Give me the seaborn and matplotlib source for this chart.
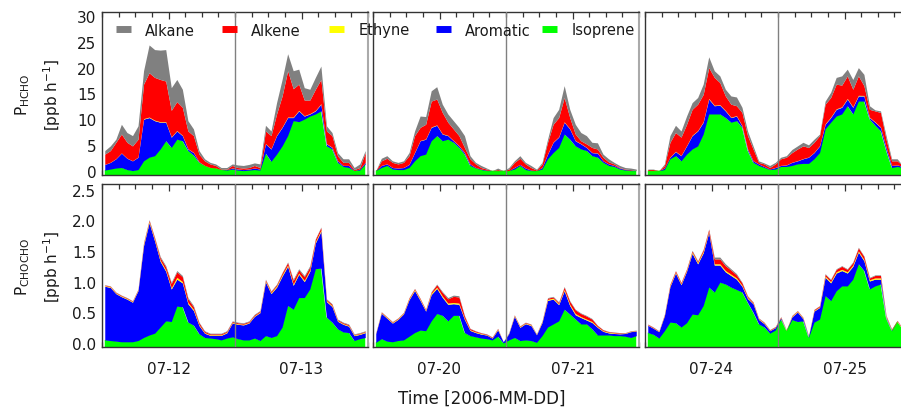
import numpy as np
import matplotlib
matplotlib.use("Agg")
import matplotlib.pyplot as plt
import seaborn as sns
from matplotlib.lines import Line2D
from matplotlib.ticker import FixedLocator, MultipleLocator

# ---------------- data (hourly values) ----------------
species = ["Alkane", "Alkene", "Ethyne", "Aromatic", "Isoprene"]
species_colors = ["#808080", "#ff0000", "#ffff00", "#0000ff", "#00ff00"]
day_labels = [["07-12", "07-13"], ["07-20", "07-21"], ["07-24", "07-25"]]
hcho_yticks = [0, 5, 10, 15, 20, 25, 30]
chocho_yticks = [0.0, 0.5, 1.0, 1.5, 2.0, 2.5]
hcho_yticklabels = ["0", "5", "10", "15", "20", "25", "30"]
chocho_yticklabels = ["0.0", "0.5", "1.0", "1.5", "2.0", "2.5"]
hours = np.arange(48) + 0.5

# HCHO: cumulative stack levels (top of isoprene, aromatic, alkene, alkane) + ethyne
hcho_iso_1 = [0.1,0.3,0.5,0.6,0.2,0.0,0.2,1.9,2.6,2.9,4.2,5.8,4.5,6.1,5.8,3.9,3.0,1.6,1.0,0.6,0.5,0.2,0.1,0.3,
              0.1,0.0,0.1,0.2,0.1,3.4,1.8,3.2,4.8,6.8,9.7,9.5,10.0,10.6,11.0,11.6,4.8,4.2,1.6,0.8,0.6,0.0,0.1,1.3]
hcho_aro_1 = [1.2,1.6,2.3,3.4,2.4,1.9,2.6,10.0,10.3,9.7,9.4,9.4,6.5,7.7,6.8,4.2,3.5,1.7,1.0,0.6,0.5,0.2,0.2,0.5,
              0.3,0.2,0.3,0.5,0.3,5.2,4.2,6.8,8.4,10.3,10.3,11.6,10.6,11.0,11.6,12.9,5.2,4.5,1.9,1.0,1.0,0.0,0.3,1.6]
hcho_ole_1 = [3.2,3.9,5.5,7.1,5.5,4.8,6.1,16.8,19.0,18.1,17.7,17.4,11.7,13.4,12.3,7.7,6.8,3.2,1.9,1.3,1.0,0.3,0.3,1.0,
              0.6,0.5,0.6,1.0,0.6,7.7,6.8,11.0,14.5,19.4,15.9,16.8,13.7,13.7,15.8,17.7,7.7,6.8,2.9,1.6,1.6,0.2,0.6,3.5]
hcho_tot_1 = [3.9,4.8,6.1,9.0,7.4,6.8,8.7,19.4,24.4,23.5,23.4,23.5,16.1,17.7,15.8,9.7,8.1,3.9,2.3,1.6,1.3,0.6,0.6,1.3,
              1.1,1.0,1.2,1.5,1.3,8.8,7.7,13.2,17.7,22.7,19.4,19.7,16.1,15.8,18.1,20.3,8.7,7.4,3.5,2.3,2.3,0.6,1.3,3.9]
hcho_eth_1 = [0.02,0.03,0.03,0.04,0.03,0.03,0.04,0.1,0.1,0.1,0.1,0.1,0.08,0.08,0.08,0.06,0.05,0.03,0.02,0.02,0.02,0.01,0.01,0.02,
              0.02,0.02,0.02,0.02,0.02,0.06,0.05,0.07,0.08,0.1,0.1,0.1,0.08,0.08,0.08,0.1,0.05,0.05,0.03,0.02,0.02,0.01,0.01,0.03]

hcho_iso_2 = [0.0,0.6,1.0,0.3,0.2,0.2,0.6,1.9,2.9,3.2,5.8,6.8,5.8,6.1,5.5,4.5,3.2,1.0,0.5,0.2,0.0,0.0,0.0,0.0,
              0.0,0.3,1.0,0.2,0.0,0.0,0.3,2.3,3.5,4.5,7.1,6.1,4.8,4.2,3.9,2.9,2.6,1.6,1.0,0.8,0.3,0.1,0.0,0.0]
hcho_aro_2 = [0.0,1.0,1.3,0.6,0.5,0.6,1.2,3.5,5.8,6.1,8.4,8.8,7.1,6.8,5.8,4.8,3.5,1.3,0.6,0.3,0.1,0.0,0.0,0.0,
              0.0,0.6,1.2,0.5,0.1,0.0,0.6,3.2,5.5,6.5,9.4,8.1,5.8,5.2,4.5,3.5,3.4,1.9,1.3,1.0,0.5,0.2,0.1,0.0]
hcho_ole_2 = [0.0,1.9,2.4,1.6,1.3,1.6,2.9,6.8,8.4,9.0,13.5,13.9,11.3,9.4,8.1,6.8,4.5,2.3,1.3,0.6,0.3,0.0,0.2,0.0,
              0.3,1.6,2.4,1.3,0.6,0.1,1.3,5.5,9.0,10.3,14.2,10.3,7.1,5.8,5.2,4.5,4.2,2.6,1.7,1.3,0.6,0.3,0.2,0.0]
hcho_tot_2 = [0.0,2.4,2.9,1.9,1.6,1.9,3.5,7.7,10.6,10.5,15.5,16.3,12.9,11.0,9.7,8.4,6.8,2.9,1.6,1.0,0.5,0.0,0.5,0.0,
              0.6,1.9,2.9,1.6,1.0,0.3,1.6,6.1,10.3,11.9,16.5,11.9,9.0,7.4,6.8,5.5,5.4,3.2,2.3,1.6,1.0,0.6,0.5,0.3]
hcho_eth_2 = [0.0,0.02,0.02,0.02,0.02,0.02,0.03,0.05,0.06,0.06,0.08,0.08,0.07,0.06,0.06,0.05,0.04,0.02,0.01,0.01,0.0,0.0,0.0,0.0,
              0.0,0.02,0.02,0.02,0.01,0.0,0.02,0.05,0.06,0.07,0.08,0.07,0.05,0.05,0.04,0.04,0.04,0.02,0.02,0.01,0.01,0.0,0.0,0.0]

hcho_iso_3 = [0.0,0.0,0.0,0.2,2.3,2.9,1.9,3.2,4.2,4.8,7.1,11.0,11.0,11.0,10.3,9.4,9.7,8.4,3.9,1.6,1.0,0.6,0.2,0.3,
              0.8,0.8,1.0,1.3,1.4,1.4,2.3,3.5,8.1,9.4,10.6,11.0,12.6,11.0,13.5,13.5,10.0,8.8,7.7,3.9,0.6,0.8,0.6,0.4]
hcho_aro_3 = [0.0,0.0,0.0,0.5,2.6,3.7,2.9,4.8,6.8,7.7,9.4,13.9,12.6,12.7,11.6,10.3,10.6,8.7,4.2,1.9,1.3,0.8,0.3,0.6,
              1.0,1.1,1.6,1.9,2.3,2.6,3.5,4.8,9.0,10.3,11.9,12.3,13.9,12.3,14.5,14.5,10.3,9.4,8.4,4.5,1.0,1.1,0.8,0.6]
hcho_ole_3 = [0.2,0.2,0.0,1.0,5.5,7.4,6.5,9.0,11.9,12.9,14.8,20.0,18.1,17.1,14.5,12.9,12.6,11.3,6.8,4.2,1.6,1.3,0.6,1.3,
              2.3,2.6,3.5,4.2,4.8,4.5,5.5,6.8,12.9,14.2,16.8,16.6,18.4,15.8,18.4,16.5,11.9,11.6,11.3,6.1,1.9,1.9,1.0,0.8]
hcho_tot_3 = [0.3,0.3,0.0,1.3,6.8,8.8,7.7,10.6,13.2,14.2,16.8,22.1,19.4,18.4,15.8,14.5,14.3,12.3,7.7,4.8,1.9,1.5,1.0,1.6,
              2.6,2.9,4.1,4.8,5.5,5.0,6.1,7.1,13.5,15.2,18.1,18.4,19.7,17.7,20.0,18.7,12.6,11.8,11.6,6.8,2.3,2.3,1.0,0.8]
hcho_eth_3 = [0.01,0.01,0.0,0.02,0.05,0.06,0.05,0.06,0.08,0.08,0.1,0.12,0.1,0.1,0.1,0.08,0.08,0.08,0.05,0.03,0.02,0.01,0.01,0.02,
              0.02,0.03,0.03,0.04,0.04,0.04,0.05,0.06,0.1,0.1,0.1,0.1,0.12,0.1,0.12,0.1,0.08,0.08,0.08,0.05,0.02,0.02,0.01,0.01]

# CHOCHO: total height, isoprene part and thin layers (ethyne, alkene, alkane)
chocho_tot_1 = [0.95,0.93,0.83,0.78,0.74,0.69,0.88,1.64,2.01,1.72,1.41,1.26,0.99,1.18,1.10,0.74,0.61,0.34,0.20,0.16,0.16,0.16,0.20,0.36,
                0.34,0.33,0.36,0.47,0.53,1.04,0.85,0.96,1.15,1.32,1.04,1.21,1.10,1.26,1.70,1.89,0.72,0.64,0.39,0.34,0.31,0.15,0.17,0.20]
chocho_iso_1 = [0.05,0.04,0.03,0.02,0.02,0.02,0.04,0.09,0.13,0.16,0.26,0.36,0.35,0.60,0.59,0.34,0.29,0.15,0.09,0.08,0.07,0.05,0.08,0.10,
                0.07,0.05,0.05,0.08,0.04,0.12,0.09,0.12,0.26,0.61,0.55,0.74,0.74,0.88,1.21,1.22,0.42,0.34,0.23,0.18,0.17,0.04,0.07,0.09]
chocho_eth_1 = [0.01,0.01,0.01,0.01,0.01,0.01,0.01,0.02,0.02,0.02,0.02,0.02,0.02,0.03,0.02,0.02,0.02,0.015,0.01,0.01,0.01,0.01,0.01,0.01,
                0.01,0.01,0.01,0.01,0.01,0.015,0.015,0.02,0.02,0.02,0.02,0.02,0.02,0.02,0.02,0.02,0.015,0.015,0.01,0.01,0.01,0.01,0.01,0.01]
chocho_ole_1 = [0.01,0.01,0.01,0.01,0.01,0.01,0.01,0.02,0.02,0.03,0.04,0.05,0.07,0.09,0.08,0.06,0.04,0.03,0.02,0.015,0.015,0.015,0.015,0.015,
                0.015,0.015,0.015,0.015,0.015,0.02,0.02,0.02,0.03,0.04,0.06,0.05,0.06,0.05,0.04,0.04,0.02,0.02,0.015,0.015,0.015,0.01,0.01,0.01]
chocho_alk_1 = [0.005,0.005,0.005,0.005,0.005,0.005,0.005,0.01,0.01,0.01,0.02,0.02,0.02,0.02,0.02,0.02,0.02,0.01,0.01,0.01,0.01,0.01,0.01,0.01,
                0.01,0.01,0.01,0.01,0.01,0.01,0.01,0.01,0.01,0.01,0.02,0.02,0.02,0.02,0.01,0.01,0.01,0.01,0.01,0.01,0.01,0.01,0.01,0.01]

chocho_tot_2 = [0.17,0.51,0.43,0.35,0.41,0.50,0.74,0.89,0.73,0.55,0.84,0.96,0.84,0.74,0.78,0.77,0.45,0.24,0.20,0.17,0.15,0.10,0.24,0.02,
                0.17,0.46,0.28,0.34,0.31,0.15,0.36,0.74,0.76,0.67,0.92,0.69,0.55,0.49,0.45,0.40,0.29,0.22,0.19,0.18,0.17,0.17,0.20,0.21]
chocho_iso_2 = [0.01,0.07,0.03,0.02,0.04,0.05,0.11,0.17,0.21,0.20,0.36,0.48,0.45,0.36,0.45,0.45,0.17,0.12,0.10,0.08,0.07,0.05,0.11,0.0,
                0.05,0.09,0.04,0.05,0.04,0.01,0.12,0.26,0.31,0.36,0.55,0.47,0.39,0.31,0.31,0.23,0.13,0.13,0.13,0.12,0.12,0.11,0.09,0.12]
chocho_eth_2 = [0.005,0.01,0.01,0.01,0.01,0.01,0.015,0.015,0.015,0.01,0.02,0.02,0.02,0.02,0.02,0.02,0.015,0.01,0.01,0.01,0.005,0.005,0.01,0.0,
                0.005,0.01,0.01,0.01,0.01,0.005,0.01,0.015,0.015,0.015,0.02,0.02,0.02,0.015,0.015,0.015,0.01,0.01,0.01,0.01,0.005,0.005,0.005,0.005]
chocho_ole_2 = [0.005,0.01,0.01,0.01,0.01,0.01,0.015,0.015,0.015,0.015,0.02,0.04,0.06,0.07,0.10,0.10,0.04,0.02,0.015,0.01,0.01,0.01,0.01,0.0,
                0.005,0.01,0.01,0.01,0.01,0.005,0.01,0.02,0.02,0.02,0.04,0.05,0.06,0.05,0.05,0.04,0.02,0.015,0.01,0.01,0.01,0.005,0.005,0.005]
chocho_alk_2 = [0.005,0.005,0.005,0.005,0.005,0.005,0.005,0.005,0.005,0.005,0.01,0.01,0.015,0.02,0.02,0.02,0.01,0.005,0.005,0.005,0.005,0.005,0.005,0.0,
                0.005,0.005,0.005,0.005,0.005,0.005,0.005,0.01,0.01,0.01,0.01,0.01,0.01,0.01,0.01,0.01,0.005,0.005,0.005,0.005,0.005,0.005,0.005,0.005]

chocho_tot_3 = [0.31,0.26,0.20,0.47,0.96,1.18,0.99,1.21,1.51,1.34,1.53,1.86,1.40,1.40,1.29,1.21,1.13,0.99,0.77,0.67,0.41,0.34,0.22,0.27,
                0.43,0.21,0.45,0.53,0.42,0.12,0.55,0.61,1.13,1.04,1.21,1.26,1.21,1.32,1.56,1.42,1.07,1.11,1.11,0.45,0.23,0.36,0.23,0.20]
chocho_iso_3 = [0.17,0.14,0.08,0.20,0.34,0.33,0.26,0.33,0.47,0.46,0.61,0.91,0.83,0.99,0.96,0.91,0.87,0.83,0.66,0.50,0.31,0.26,0.16,0.21,
                0.39,0.20,0.38,0.35,0.36,0.09,0.34,0.39,0.77,0.69,0.85,0.93,0.93,1.04,1.29,1.18,0.88,0.93,0.96,0.40,0.20,0.35,0.22,0.19]
chocho_eth_3 = [0.005,0.005,0.005,0.01,0.015,0.015,0.015,0.015,0.02,0.02,0.02,0.02,0.02,0.02,0.02,0.02,0.02,0.015,0.015,0.01,0.01,0.01,0.005,0.005,
                0.005,0.005,0.01,0.01,0.01,0.005,0.01,0.01,0.02,0.02,0.02,0.02,0.02,0.02,0.02,0.02,0.02,0.02,0.02,0.01,0.005,0.005,0.005,0.005]
chocho_ole_3 = [0.01,0.01,0.005,0.01,0.02,0.02,0.02,0.02,0.02,0.02,0.03,0.03,0.08,0.08,0.08,0.07,0.05,0.04,0.02,0.015,0.01,0.01,0.01,0.01,
                0.01,0.005,0.01,0.01,0.01,0.005,0.015,0.015,0.03,0.03,0.04,0.05,0.04,0.04,0.05,0.05,0.03,0.04,0.04,0.015,0.01,0.01,0.01,0.01]
chocho_alk_3 = [0.005,0.005,0.005,0.005,0.005,0.005,0.005,0.005,0.01,0.01,0.01,0.01,0.03,0.03,0.03,0.02,0.02,0.01,0.01,0.005,0.005,0.005,0.005,0.005,
                0.005,0.005,0.005,0.005,0.005,0.005,0.005,0.005,0.01,0.01,0.01,0.01,0.01,0.01,0.01,0.01,0.01,0.01,0.01,0.005,0.005,0.005,0.005,0.005]

# ---------------- build species layers (bottom -> top: Isoprene, Aromatic, Ethyne, Alkene, Alkane) ----------------
def hcho_layers(iso, aro, ole, tot, eth):
    iso, aro, ole, tot, eth = map(np.asarray, (iso, aro, ole, tot, eth))
    return [iso, np.clip(aro - iso, 0, None), eth,
            np.clip(ole - aro - eth, 0, None), np.clip(tot - ole, 0, None)]

def chocho_layers(tot, iso, eth, ole, alk):
    tot, iso, eth, ole, alk = map(np.asarray, (tot, iso, eth, ole, alk))
    aro = np.clip(tot - iso - eth - ole - alk, 0, None)
    return [iso, aro, eth, ole, alk]

hcho_panels = [hcho_layers(hcho_iso_1, hcho_aro_1, hcho_ole_1, hcho_tot_1, hcho_eth_1),
               hcho_layers(hcho_iso_2, hcho_aro_2, hcho_ole_2, hcho_tot_2, hcho_eth_2),
               hcho_layers(hcho_iso_3, hcho_aro_3, hcho_ole_3, hcho_tot_3, hcho_eth_3)]
chocho_panels = [chocho_layers(chocho_tot_1, chocho_iso_1, chocho_eth_1, chocho_ole_1, chocho_alk_1),
                 chocho_layers(chocho_tot_2, chocho_iso_2, chocho_eth_2, chocho_ole_2, chocho_alk_2),
                 chocho_layers(chocho_tot_3, chocho_iso_3, chocho_eth_3, chocho_ole_3, chocho_alk_3)]
layer_colors = species_colors[::-1]   # isoprene first

# ---------------- figure ----------------
sns.set_theme(style="ticks")
plt.rcParams["font.family"] = ["DejaVu Sans"]
plt.rcParams["text.color"] = "#1a1a1a"
plt.rcParams["axes.labelcolor"] = "#1a1a1a"
plt.rcParams["xtick.color"] = "#1a1a1a"
plt.rcParams["ytick.color"] = "#1a1a1a"
W, H = 901, 410
fig = plt.figure(figsize=(W / 100, H / 100), dpi=100)

col_left = [102, 373, 645]
ax_w = 266
row_top = [13, 185]
ax_h = 163
rows = [(hcho_panels, (-0.85, 30.8), hcho_yticks, hcho_yticklabels,
         "P$_{\\rm HCHO}$\n[ppb h$^{-1}$]"),
        (chocho_panels, (-0.065, 2.59), chocho_yticks, chocho_yticklabels,
         "P$_{\\rm CHOCHO}$\n[ppb h$^{-1}$]")]

for r, (panels, ylim, yt, ytl, ylab) in enumerate(rows):
    for c in range(3):
        ax = fig.add_axes([col_left[c] / W, 1 - (row_top[r] + ax_h) / H, ax_w / W, ax_h / H])
        layers = panels[c]
        base = np.full(len(hours), -100.0)
        level = np.zeros(len(hours))
        for i, (lay, col) in enumerate(zip(layers, layer_colors)):
            new = level + lay
            ax.fill_between(hours, base if i == 0 else level, new, color=col, lw=0, zorder=1)
            level = new
        ax.axvline(24, color="#808080", lw=1.0, zorder=3)
        ax.set_xlim(0, 48)
        ax.set_ylim(*ylim)
        ax.xaxis.set_major_locator(FixedLocator([12, 36]))
        ax.xaxis.set_minor_locator(MultipleLocator(3))
        ax.tick_params(axis="x", which="both", direction="in", top=True, bottom=True,
                       color="#333333", width=0.9)
        ax.tick_params(axis="x", which="major", length=5, pad=10, labelsize=11)
        ax.tick_params(axis="x", which="minor", length=3.5)
        ax.set_yticks(yt)
        ax.tick_params(axis="y", length=0, pad=4, labelsize=11)
        if r == 1:
            ax.set_xticklabels(day_labels[c])
        else:
            ax.set_xticklabels([])
        if c == 0:
            ax.set_yticklabels(ytl)
            ax.set_ylabel(ylab, fontsize=11, linespacing=1.6)
            ax.yaxis.set_label_coords(-0.145, 0.5)
        else:
            ax.set_yticklabels([])
        for s in ["left", "top", "bottom"]:
            ax.spines[s].set_color("#333333")
            ax.spines[s].set_linewidth(1.0)
        ax.spines["right"].set_color("#aaaaaa")
        ax.spines["right"].set_linewidth(1.5)
        ax.set_facecolor("white")

# legend: one entry per species, evenly spaced like the reference
legend_x = [116, 222, 329, 436, 542]
for name, col, x0 in zip(species, species_colors, legend_x):
    fig.legend(handles=[Line2D([0], [0], color=col, lw=5, solid_capstyle="butt")],
               labels=[name], loc="center left", bbox_to_anchor=(x0 / W, 1 - 31 / H),
               frameon=False, fontsize=10.5, handlelength=1.05, handletextpad=0.95,
               borderpad=0, borderaxespad=0)

fig.text(482 / W, 1 - 399 / H, "Time [2006-MM-DD]", ha="center", va="center", fontsize=12)

fig.savefig("out.png", dpi=100)
